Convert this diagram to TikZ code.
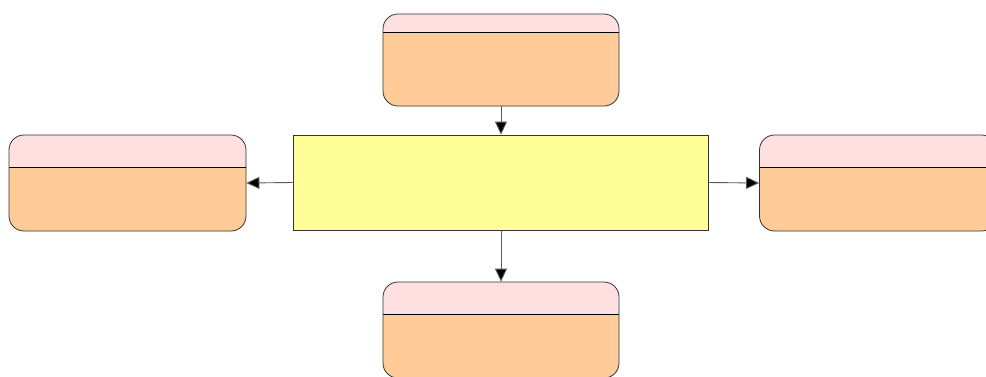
\documentclass[tikz,border=0pt]{standalone}
\usetikzlibrary{arrows.meta}
\definecolor{hdr}{HTML}{FFE0E1}
\definecolor{bodyc}{HTML}{FFCC99}
\definecolor{ctr}{HTML}{FFFF99}
\definecolor{edge}{HTML}{333333}
\tikzset{
  card/.style={draw=edge, line width=0.8pt, fill=hdr, rounded corners=15pt,
    minimum width=236pt, inner sep=0pt,
    path picture={
      \fill[bodyc, sharp corners] ([xshift=-2pt,yshift=-#1]path picture bounding box.north west) rectangle ([xshift=2pt,yshift=-2pt]path picture bounding box.south east);
      \draw[black, line width=0.8pt, sharp corners] ([xshift=-2pt,yshift=-#1]path picture bounding box.north west) -- ([xshift=2pt,yshift=-#1]path picture bounding box.north east);
    }},
  centerbox/.style={draw=edge, line width=0.8pt, fill=ctr, minimum width=415pt, minimum height=95pt, inner sep=0pt},
  link/.style={draw=black!65, line width=0.9pt, -{Triangle[length=13pt,width=12pt,fill=black]}}
}
\begin{document}
\begin{tikzpicture}[x=1pt,y=-1pt]
\useasboundingbox (0,0) rectangle (986,376);
\clip (0,0) rectangle (986,376);
\node[centerbox] (c) at (500.5,182.5) {};
\node[card=18pt, minimum height=92pt] (t) at (501,60) {};
\node[card=32pt, minimum height=96pt, minimum width=237pt] (l) at (127.5,183) {};
\node[card=32pt, minimum height=96pt, minimum width=237pt] (r) at (878,183) {};
\node[card=32pt, minimum height=96pt] (b) at (501,330) {};
\draw[link] (t.south) -- (c.north -| t.south);
\draw[link] (c.west) -- (l.east);
\draw[link] (c.east) -- (r.west);
\draw[link] (c.south -| b.north) -- (b.north);
\end{tikzpicture}
\end{document}
